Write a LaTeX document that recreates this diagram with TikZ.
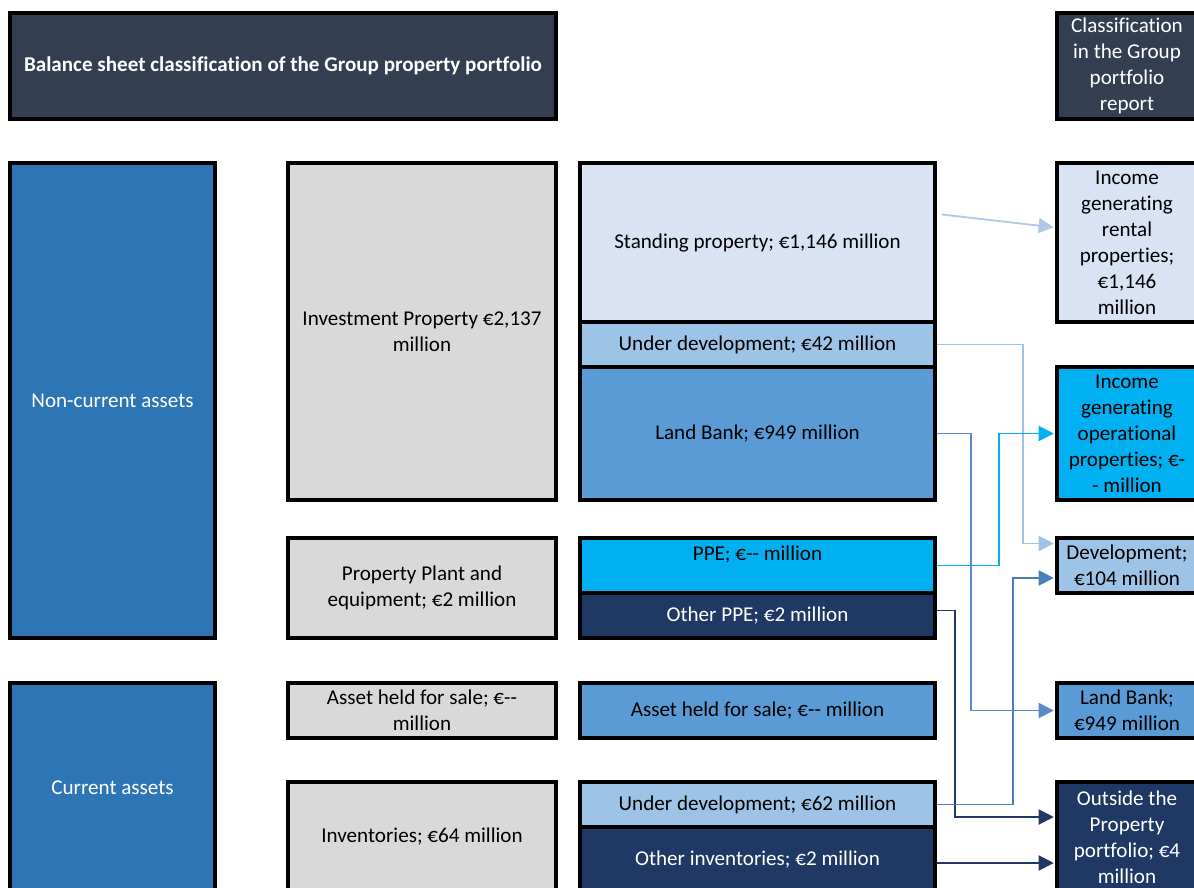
\documentclass[tikz,border=0pt]{standalone}
\usepackage{fontspec}
\setmainfont[Ligatures=NoCommon]{Carlito}
\usetikzlibrary{arrows.meta,calc}
\definecolor{headfill}{HTML}{333F50}
\definecolor{assetblue}{HTML}{2E75B6}
\definecolor{grayfill}{HTML}{D9D9D9}
\definecolor{lavender}{HTML}{DAE3F3}
\definecolor{devblue}{HTML}{9DC3E6}
\definecolor{landblue}{HTML}{5B9BD5}
\definecolor{ppecyan}{HTML}{00B0F0}
\definecolor{navy}{HTML}{203864}
\definecolor{rentlink}{HTML}{B4C7E7}
\definecolor{landlink}{HTML}{5A8AC6}
\definecolor{devlink}{HTML}{4A7EBB}
\definecolor{navylink}{HTML}{1F3864}
\tikzset{
  box/.style={draw=black, line width=2.6pt, align=center, inner sep=2pt, font=\fontsize{15}{18.5}\selectfont},
  link/.style={line width=1.3pt, -{Triangle[length=0.38cm,width=0.38cm]}, shorten >=1pt},
}
\begin{document}
\begin{tikzpicture}[x=0.025cm,y=-0.025cm]
\useasboundingbox (0,0) rectangle (1194,887);
\node[box, fill=headfill, text=white, minimum width=13.65cm, minimum height=2.65cm, font=\bfseries\fontsize{15}{18.5}\selectfont] (title) at (283,66) {Balance sheet classification of the Group property portfolio};
\node[box, fill=headfill, text=white, minimum width=3.5cm, minimum height=2.65cm] (report) at (1127,66) {Classification\\in the Group\\portfolio\\report};
\node[box, fill=assetblue, text=white, minimum width=5.125cm, minimum height=11.875cm] (noncur) at (112.5,400.5) {Non-current assets};
\node[box, fill=assetblue, text=white, minimum width=5.125cm, minimum height=5.225cm] (cur) at (112.5,787.5) {Current assets};
\node[box, fill=grayfill, minimum width=6.7cm, minimum height=8.425cm] (invprop) at (422,331.5) {Investment Property €2,137\\million};
\node[box, fill=grayfill, minimum width=6.7cm, minimum height=2.5cm] (plant) at (422,588) {Property Plant and\\equipment; €2 million};
\node[box, fill=grayfill, minimum width=6.7cm, minimum height=1.375cm] (sale) at (422,710.5) {Asset held for sale; €-{}-\\million};
\node[box, fill=grayfill, minimum width=6.7cm, minimum height=2.75cm] (invent) at (422,837) {Inventories; €64 million};
\node[box, fill=lavender, minimum width=8.875cm, minimum height=3.975cm] (standing) at (757.5,242.5) {Standing property; €1,146 million};
\node[box, fill=devblue, minimum width=8.875cm, minimum height=1.125cm] (devA) at (757.5,344.5) {Under development; €42 million};
\node[box, fill=landblue, minimum width=8.875cm, minimum height=3.325cm] (landA) at (757.5,433.5) {Land Bank; €949 million};
\node[box, fill=ppecyan, minimum width=8.875cm, minimum height=1.375cm, text depth=0.62cm] (ppe) at (757.5,565.5) {PPE; €-{}- million};
\node[box, fill=navy, text=white, minimum width=8.875cm, minimum height=1.125cm] (otherppe) at (757.5,615.5) {Other PPE; €2 million};
\node[box, fill=landblue, minimum width=8.875cm, minimum height=1.375cm] (saleB) at (757.5,710.5) {Asset held for sale; €-{}- million};
\node[box, fill=devblue, minimum width=8.875cm, minimum height=1.125cm] (devB) at (757.5,804.5) {Under development; €62 million};
\node[box, fill=navy, text=white, minimum width=8.875cm, minimum height=1.625cm] (otherinv) at (757.5,859.5) {Other inventories; €2 million};
\node[box, fill=lavender, minimum width=3.5cm, minimum height=3.975cm] (rental) at (1127,242.5) {Income\\generating\\rental\\properties;\\€1,146\\million};
\node[box, fill=ppecyan, minimum width=3.5cm, minimum height=3.325cm] (operational) at (1127,433.5) {Income\\generating\\operational\\properties; €-\\- million};
\node[box, fill=devblue, minimum width=3.5cm, minimum height=1.375cm] (develop) at (1127,565.5) {Development;\\€104 million};
\node[box, fill=landblue, minimum width=3.5cm, minimum height=1.375cm] (landC) at (1127,710.5) {Land Bank;\\€949 million};
\node[box, fill=navy, text=white, minimum width=3.5cm, minimum height=2.75cm] (outside) at (1127,837) {Outside the\\Property\\portfolio; €4\\million};
\draw[link, rentlink] ($(standing.east)+(5,-28)$) -- ($(rental.west)+(0,-15)$);
\draw[link, devblue] (devA.east) -| ($(develop.west)+(-32,-22)$) -- ($(develop.west)+(0,-22)$);
\draw[link, landlink] (landA.east) -| ($(landC.west)+(-84,0)$) -- (landC.west);
\draw[link, ppecyan] (ppe.east) -| ($(operational.west)+(-56,0)$) -- (operational.west);
\draw[link, navylink] ($(otherppe.east)+(0,-5)$) -| ($(outside.west)+(-100,-20)$) -- ($(outside.west)+(0,-20)$);
\draw[link, devlink] (devB.east) -| ($(develop.west)+(-42,12.5)$) -- ($(develop.west)+(0,12.5)$);
\draw[link, navylink] ($(otherinv.east)+(0,3.5)$) -- ($(outside.west)+(0,26)$);
\end{tikzpicture}
\end{document}
